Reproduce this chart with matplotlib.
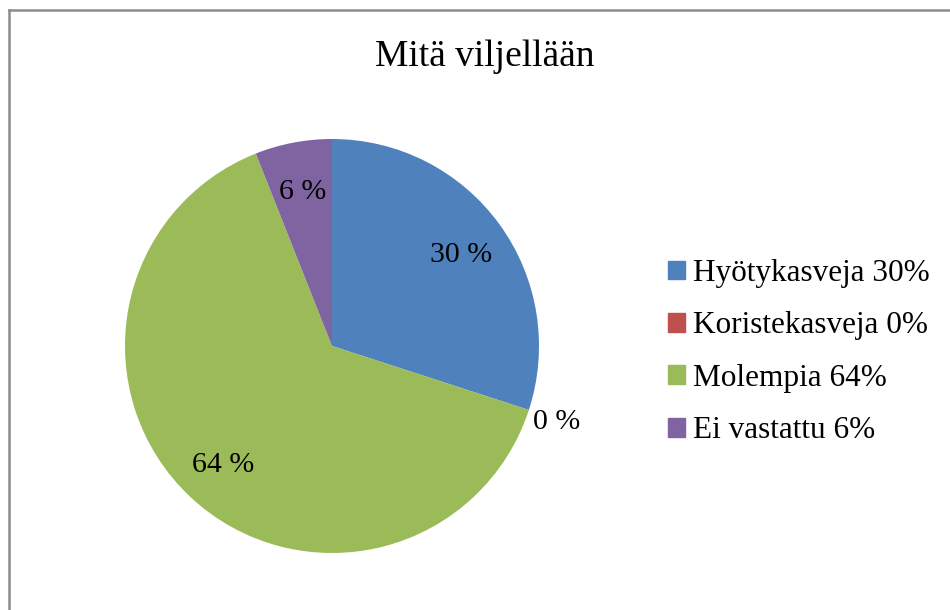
import numpy as np
import matplotlib.pyplot as plt
from matplotlib.lines import Line2D

plt.rcParams['font.family'] = ['Liberation Serif', 'DejaVu Serif']

# Data
categories = ['Hyötykasveja', 'Koristekasveja', 'Molempia', 'Ei vastattu']
values = [30, 0, 64, 6]
colors = ['#4F81BD', '#C0504D', '#9BBB59', '#8064A2']

fig = plt.figure(figsize=(9.5, 6.1), dpi=100)

# border (only top and left visible in reference)
fig.add_artist(Line2D([8.5 / 950, 8.5 / 950], [0, 1 - 9.5 / 610], color='#8c8c8c', lw=1.8))
fig.add_artist(Line2D([8.5 / 950, 1], [1 - 9.5 / 610, 1 - 9.5 / 610], color='#8c8c8c', lw=1.8))

ax = fig.add_axes([125 / 950, 57 / 610, 414 / 950, 414 / 610])
wedges, _ = ax.pie(values, colors=colors, startangle=90, counterclock=False,
                   radius=1, wedgeprops=dict(linewidth=0))
ax.set_xlim(-1, 1)
ax.set_ylim(-1, 1)
ax.set_aspect('equal')

# percentage labels
for w, v in zip(wedges, values):
    ang = np.deg2rad((w.theta1 + w.theta2) / 2)
    r = 1.14 if v == 0 else 0.77
    ax.text(r * np.cos(ang), r * np.sin(ang), f'{v} %', ha='center', va='center_baseline',
            fontsize=21.5, clip_on=False)

fig.text(485 / 950, 1 - 57 / 610, 'Mitä viljellään', ha='center', va='center', fontsize=27)

handles = [plt.Rectangle((0, 0), 1, 1, color=c) for c in colors]
labels = [f'{c} {v}%' for c, v in zip(categories, values)]
fig.legend(handles, labels, loc='upper left', bbox_to_anchor=(668 / 950, 1 - 259 / 610),
           frameon=False, fontsize=22.5, handlelength=0.55, handleheight=0.55,
           handletextpad=0.25, labelspacing=0.75, borderaxespad=0, borderpad=0)

plt.savefig('out.png', dpi=100)
